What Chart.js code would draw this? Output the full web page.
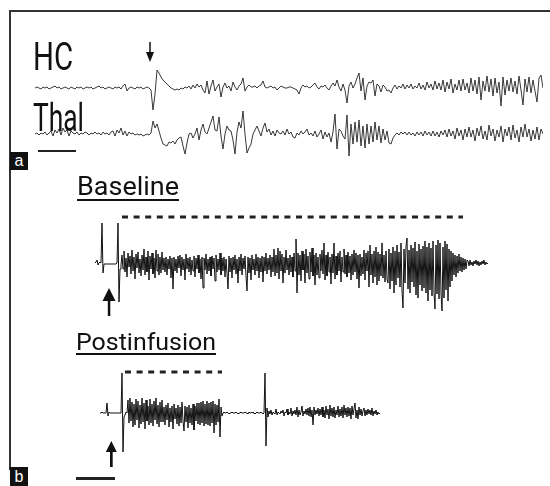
<!DOCTYPE html>
<html>
<head>
<meta charset="utf-8">
<title>HC / Thal afterdischarge</title>
<script src="https://cdn.jsdelivr.net/npm/chart.js@4.4.1/dist/chart.umd.min.js"></script>
<style>
  body { margin: 0; background: #fff; }
  #fig { position: relative; width: 550px; height: 486px; overflow: hidden; background: #fff;
         font-family: Roboto, "Liberation Sans", sans-serif; color: #111; }
  .frame { position: absolute; left: 9px; top: 10px; width: 541px; height: 458px;
           border-top: 2px solid #333; border-left: 2px solid #333; }
  .trace { position: absolute; }
  .lbl { position: absolute; white-space: nowrap; line-height: 1; font-weight: 400; transform-origin: 0 0;
         filter: grayscale(1); }
  .ul { text-decoration: underline; text-decoration-thickness: 1.5px; text-decoration-skip-ink: none; }
  .panel { position: absolute; left: 10px; width: 18px; background: #111; color: #fff;
           font: 16px "Liberation Sans", Arial, sans-serif; text-align: center; }
  .bar { position: absolute; background: #222; }
  svg { position: absolute; overflow: visible; }
</style>
</head>
<body>
<div id="fig">
  <div class="frame"></div>

  <div class="lbl" style="left:33px; top:38px; font-size:38px;" data-w="40">HC</div>
  <div class="lbl" style="left:33px; top:99px; font-size:38px;" data-w="51">Thal</div>
  <div class="lbl ul" style="left:77px; top:174px; font-size:25px; text-underline-offset:4px;" data-w="102">Baseline</div>
  <div class="lbl ul" style="left:76px; top:330px; font-size:24px; text-underline-offset:3px;" data-w="140">Postinfusion</div>

  <div class="panel" style="top:152px; height:18px; line-height:17px;">a</div>
  <div class="panel" style="top:467px; height:19px; line-height:19px;">b</div>

  <div class="bar" style="left:38px; top:150px; width:38px; height:2px;"></div>
  <div class="bar" style="left:76px; top:477px; width:39px; height:3px;"></div>

  <!-- stimulus arrows -->
  <svg style="left:144px; top:40px;" width="12" height="24">
    <line x1="6" y1="2" x2="6" y2="14" stroke="#111" stroke-width="1.5"/>
    <polygon points="2,12 10,12 6,22" fill="#111"/>
  </svg>
  <svg style="left:100px; top:286px;" width="18" height="32">
    <polygon points="2.5,15 15.5,15 9,2" fill="#111"/>
    <rect x="7.8" y="14" width="2.5" height="16" fill="#111"/>
  </svg>
  <svg style="left:102px; top:439px;" width="18" height="30">
    <polygon points="3.8,13 14.8,13 9.3,2" fill="#111"/>
    <rect x="8" y="12" width="2.7" height="16" fill="#111"/>
  </svg>

  <div class="trace" id="wHC"><canvas id="cHC"></canvas></div>
  <div class="trace" id="wThal"><canvas id="cThal"></canvas></div>
  <div class="trace" id="wBase"><canvas id="cBase"></canvas></div>
  <div class="trace" id="wPost"><canvas id="cPost"></canvas></div>
</div>

<script>
// Trace amplitudes (positive = up), one sample per step
const hcTrace = [
  0,1,0,-1,1,0,1,-1,0,1,
  2,0,1,-1,0,1,0,-1,1,0,
  -1,1,0,1,-1,0,1,0,1,-1,
  0,1,2,0,1,-1,0,1,0,-1,
  1,0,1,-1,2,4,-3,0,1,0,
  -1,1,0,1,-1,0,1,0,-2,-22,
  -6,18,15,11,8,6,4,2,0,-1,
  -2,-1,-2,0,-1,1,0,2,-1,3,
  0,4,1,3,-2,-5,7,-6,2,8,
  -3,1,4,-9,1,5,0,2,-3,6,
  1,-2,2,4,10,-3,1,3,1,1,
  2,0,2,3,7,1,0,1,2,0,
  1,-2,0,2,1,0,0,1,1,0,
  -1,-2,-6,0,3,1,2,0,1,3,
  5,1,-1,2,1,3,0,-2,2,5,
  2,8,1,-3,4,-2,-15,2,6,0,
  4,10,15,-3,10,-12,2,6,5,8,
  -8,4,2,-4,3,1,-3,-2,-5,0,
  3,-1,2,0,4,-1,3,0,4,-1,
  2,0,5,-1,3,-2,6,0,4,-2,
  7,-1,5,-2,8,-4,6,-1,9,-5,
  4,-2,8,-3,9,-2,5,-5,10,-3,
  8,-6,11,-12,7,-3,12,-4,9,-8,
  10,-5,6,-18,11,-7,8,-3,10,-4,
  7,-6,12,-2,-17,9,-4,11,-5,8,
  -3,-14,10,13,0
];

const thalTrace = [
  0,1,-1,1,0,2,-1,1,3,-2,
  4,1,5,-1,6,2,4,-2,3,1,
  0,2,-1,1,0,2,1,-1,1,0,
  2,0,1,-1,2,0,1,-1,2,3,
  -2,4,1,6,-1,3,-2,2,0,1,
  -1,0,-1,0,-2,-1,0,-1,1,13,
  6,10,3,-4,-10,-11,-12,-8,-9,-7,
  -10,-6,-4,-3,-12,-20,-9,0,1,-4,
  0,6,-6,4,10,2,0,6,12,18,
  4,3,17,-2,-15,0,8,4,3,-6,
  -20,2,12,6,23,0,-19,-14,-10,0,
  4,8,3,-2,6,11,2,5,-1,3,
  -2,4,1,0,3,-1,5,0,2,-3,
  -4,1,-1,3,0,2,5,-1,1,-2,
  3,-3,0,4,-5,2,-3,1,-8,2,
  20,-15,5,3,-2,-5,19,-22,10,-10,
  12,-8,14,-12,8,-14,10,-10,8,-8,
  12,-6,8,-9,5,-6,3,-9,-10,-4,
  -1,1,-1,2,0,2,-1,2,-1,1,
  -2,2,-1,2,-2,3,-1,2,-2,3,
  -2,2,-3,3,-1,4,-3,5,-2,3,
  -5,6,-2,4,-6,5,-3,7,-3,4,
  -7,6,-2,8,-5,3,-6,9,-2,5,
  -7,4,-3,8,-8,5,-2,7,-6,9,
  -4,4,-8,7,-3,10,-3,5,-7,4,
  -5,7,-6,5,0
];

const baselineTrace = [
  0,1,3,-2,0,1,0,40,-10,
  -1,-1,-1,-1,-1,-1,-1,-1,-1,-1,-1,-1,-1,
  0,40,-39,-6,-2,
  8,-6,12,-9,5,-14,10,-4,7,-11, 13,-8,6,-16,9,-5,11,-10,4,-13,
  8,-7,14,-12,6,-9,12,-17,7,-6, 10,-11,5,-15,13,-8,9,-12,6,-10, 11,
  -7,5,-9,6,-12,4,-6,7,-15,5,
  -26,6,-8,4,-10,7,-5,8,-13,6,
  -7,4,-17,9,-6,5,-9,6,-12,3,
  -8,7,-14,5,-6,8,-10,4,-16,6,
  -25,5,-7,9,-11,4,-8,6,-13,7,
  -6,5,-18,8,-9,4,-7,10,-12,5,
  -8,6,-14,4,-10,-26,7,-9,5,-15,
  6,-7,8,-11,4,-20,6,-8,9,-12,
  5,-6,7,-13,-28,6,-10,5,-17,8,
  -7,4,-12,9,-8,6,-15,5,-9,7,
  -19,6,-8,10,-11,5,-7,8,-14,6,
  -9,14,-13,8,-10,15,-16,12,-8,9,
  -20,6,-10,13,-7,5,-12,8,-9,6,
  -14,10,-8,
  24,-30,10,-12,8,-18,12,-7,9,-20,
  14,-10,7,-16,11,-9,15,-13,8,-22,
  10,-12,6,-15,9,-8,13,-11,20,-17,
  8,-13,11,-9,6,-21,9,-10,20,-16,
  7,-12,10,-8,12,-19,6,-9,14,-11,
  8,-14,11,-10,7,-17,9,-12,13,-9,
  10,-16,8,-25,9,-13,6,-11,13,-17,
  10,-8,12,-24,18,-12,9,-20,12,-14,
  16,-22,11,-18,9,-13,20,-15,8,-19,
  12,-16,
  -20,14,-26,10,-18,16,-30,12,-22,18,
  -15,11,-24,20,-28,-45,14,-20,17,25,
  -26,13,-30,18,-19,15,-24,21,-32,12,
  -35,19,-22,14,-28,17,-25,22,-30,16,
  -38,20,-27,15,-33,22,-29,-46,18,-31,
  23,-36,20,-30,-48,16,-35,22,-27,19,
  -38,14,-24,12,-18,
  10,-12,8,-14,7,-10,9,-8,6,-9,5,-7,4,-6,3,
  2,-3,3,-2,1,-3,2,-1,3,-2,2,-3,1,-2,2,-1,3,-2,1,-1,0
];

const postTrace = [
  0,0,1,0,0,0,0,10,-3,1,
  0,0,0,0,0,0,0,0,0,0,0,0,
  40,-39,-4,-2,1,0,
  13,-10,15,-8,11,-14,9,-12,14,-7, 12,-15,8,-11,15,-9,10,-16,13,-8,
  7,-12,14,-10,9,-13,12,-7,15,-11, 8,-14,11,-9,13,
  -9,6,-12,8,-7,10,-14,5,-9,7, -16,9,-6,5,-11,8,-13,6,-10,11,
  -8,-18,7,-9,6,-15,8,-10,5,-12, 9,-17,7,-8,10,
  -11,10,-12,11,-10,12,-13,9,-11,12, -12,10,-13,11,-10,12,-20,9,-12,
  8,-9,14,-24,6,-3,
  0,1,0,0,1,0,-1,0,0,1, 0,0,0,1,0,-1,0,0,1,0,
  0,0,1,0,0,-1,1,0,0,1, 0,0,-1,0,1,0,0,0,1,0, -1,0,
  40,-33,
  5,-4,2,-1,3,-2,1,0,-1,4,
  -2,1,0,-1,2,0,3,-3,1,0,
  4,-2,1,-1,5,-3,2,-1,3,-2,
  6,-4,3,-2,1,7,-3,2,-1,4,
  -2,5,-3,6,-4,3,-12,6,-2,3,
  -1,5,-3,4,-2,6,-4,3,-5,7,
  -2,4,-6,8,-3,5,-4,6,-5,3,
  -2,7,-4,4,-3,6,-5,8,-2,5,
  -4,6,-3,5,-6,7,-2,4,10,-5,
  3,-6,6,-2,4,-3,2,5,-3,3,
  -2,4,-1,3,-2,5,-3,2,-1,3,
  -2,1,-1,0
];

// afterdischarge windows (start, end) in samples
const baselineAD = [27, 368];
const postAD = [25, 122];

// placement of each trace on the figure
function traceChart(wrapId, canvasId, values, box, ad) {
  const wrap = document.getElementById(wrapId);
  wrap.style.left = box.left + 'px';
  wrap.style.top = (box.base - box.max) + 'px';
  wrap.style.width = ((values.length - 1) * box.step) + 'px';
  wrap.style.height = (box.max - box.min) + 'px';

  const datasets = [{
    data: values.map((v, i) => ({ x: i, y: v })),
    borderColor: box.color,
    borderWidth: box.width,
    pointRadius: 0,
    tension: 0,
    clip: false
  }];
  if (ad) {
    datasets.push({
      data: [{ x: ad[0], y: box.adLevel }, { x: ad[1], y: box.adLevel }],
      borderColor: '#222',
      borderWidth: 3,
      borderDash: [6, 5.6],
      pointRadius: 0,
      clip: false
    });
  }

  return new Chart(document.getElementById(canvasId), {
    type: 'line',
    data: { datasets },
    options: {
      responsive: true,
      maintainAspectRatio: false,
      animation: false,
      events: [],
      layout: { padding: 0 },
      plugins: { legend: { display: false }, tooltip: { enabled: false } },
      scales: {
        x: { type: 'linear', display: false, min: 0, max: values.length - 1 },
        y: { display: false, min: box.min, max: box.max }
      }
    }
  });
}

traceChart('wHC', 'cHC', hcTrace, { left: 35, base: 88, step: 2, min: -25, max: 22, color: '#222', width: 0.9 });
traceChart('wThal', 'cThal', thalTrace, { left: 35, base: 134, step: 2, min: -25, max: 26, color: '#222', width: 0.9 });
traceChart('wBase', 'cBase', baselineTrace, { left: 95, base: 263, step: 1, min: -52, max: 50, adLevel: 46, color: '#111', width: 1 }, baselineAD);
traceChart('wPost', 'cPost', postTrace, { left: 100, base: 413, step: 1, min: -42, max: 44, adLevel: 41, color: '#111', width: 1 }, postAD);

// squeeze the labels to the narrow lettering of the original
document.querySelectorAll('.lbl').forEach(el => {
  const w = parseFloat(el.dataset.w);
  const r = el.getBoundingClientRect().width;
  if (r > 0) el.style.transform = 'scaleX(' + (w / r).toFixed(3) + ')';
});
</script>
</body>
</html>
